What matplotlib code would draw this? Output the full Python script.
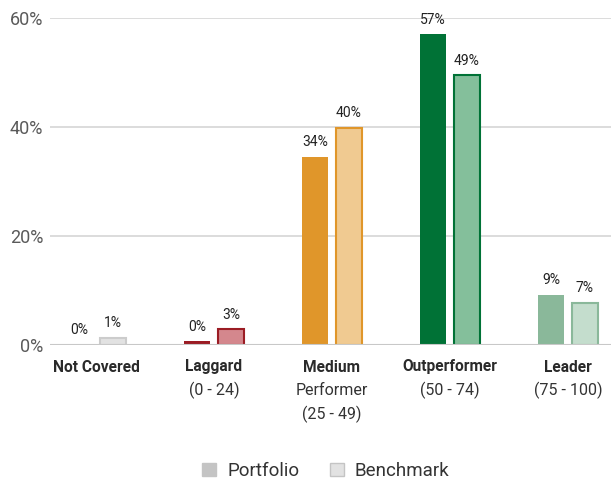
import matplotlib
matplotlib.use("Agg")
import matplotlib.pyplot as plt
from matplotlib.patches import Patch
from matplotlib.transforms import blended_transform_factory

plt.rcParams['font.family'] = ['Roboto', 'DejaVu Sans']

categories = ["Not Covered", "Laggard", "Medium", "Outperformer", "Leader"]
subtitles = [[], ["(0 - 24)"], ["Performer", "(25 - 49)"], ["(50 - 74)"], ["(75 - 100)"]]
portfolio = [0.0, 0.7, 34.5, 57.0, 9.2]
benchmark = [1.3, 2.9, 39.8, 49.5, 7.7]
portfolio_labels = ["0%", "0%", "34%", "57%", "9%"]
benchmark_labels = ["1%", "3%", "40%", "49%", "7%"]
yticks = [0, 20, 40, 60]
ytick_labels = ["0%", "20%", "40%", "60%"]

port_colors = ["#c8c8c8", "#9b1c24", "#e0962a", "#007236", "#8ab89a"]
bench_colors = ["#e2e2e2", "#d4878d", "#f0ca91", "#84bf9b", "#c4ddcd"]
bench_edges = ["#cccccc", "#9b1c24", "#e0962a", "#007236", "#8ab89a"]

fig = plt.figure(figsize=(6.11, 4.79), dpi=100)
ax = fig.add_axes([50/611, 1-345/479, 561/611, (345-18)/479])

x = list(range(len(categories)))
w = 0.215
off = 0.144
for i in x:
    ax.bar(i - off, portfolio[i], width=w, color=port_colors[i], zorder=3)
    ax.bar(i + off, benchmark[i], width=w, color=bench_colors[i],
           edgecolor=bench_edges[i], linewidth=1.5, zorder=3)
    ax.annotate(portfolio_labels[i], (i - off, portfolio[i]), xytext=(0, 5.5),
                textcoords="offset points", ha="center", va="bottom",
                fontsize=10, color="#222222")
    ax.annotate(benchmark_labels[i], (i + off, benchmark[i]), xytext=(0, 5.5),
                textcoords="offset points", ha="center", va="bottom",
                fontsize=10, color="#222222")

ax.set_xlim((50-96)/118, (611-96)/118)
ax.set_ylim(0, 60)
ax.set_yticks(yticks)
ax.set_yticklabels(ytick_labels, fontsize=13, color="#5a5a5a", fontweight="normal")
ax.set_xticks([])
ax.tick_params(axis="y", length=0, pad=5)
for s in ax.spines.values():
    s.set_visible(False)
ax.grid(axis="y", color="#d6d6d6", linewidth=1.2, zorder=0)
ax.axhline(0, color="#c8c8c8", linewidth=1.5, zorder=4)

tr = blended_transform_factory(ax.transData, fig.transFigure)
for i, c in enumerate(categories):
    ax.text(i, 1-367/479, c, transform=tr, ha="center", va="center",
            fontsize=11.2, fontweight="bold", color="#2a2a2a")
    for j, s in enumerate(subtitles[i]):
        ax.text(i, 1-(367+23.5*(j+1))/479, s, transform=tr, ha="center",
                va="center", fontsize=11.5, color="#333333")

handles = [Patch(facecolor="#c4c4c4", edgecolor="#c4c4c4"),
           Patch(facecolor="#e2e2e2", edgecolor="#c4c4c4")]
fig.legend(handles, ["Portfolio", "Benchmark"], loc="center",
           bbox_to_anchor=(326/611, 1-471/479), ncol=2, frameon=False,
           fontsize=13.5, handlelength=0.75, handleheight=0.75,
           columnspacing=1.6, handletextpad=0.6, labelcolor="#333333")

fig.savefig("out.png", dpi=100)
